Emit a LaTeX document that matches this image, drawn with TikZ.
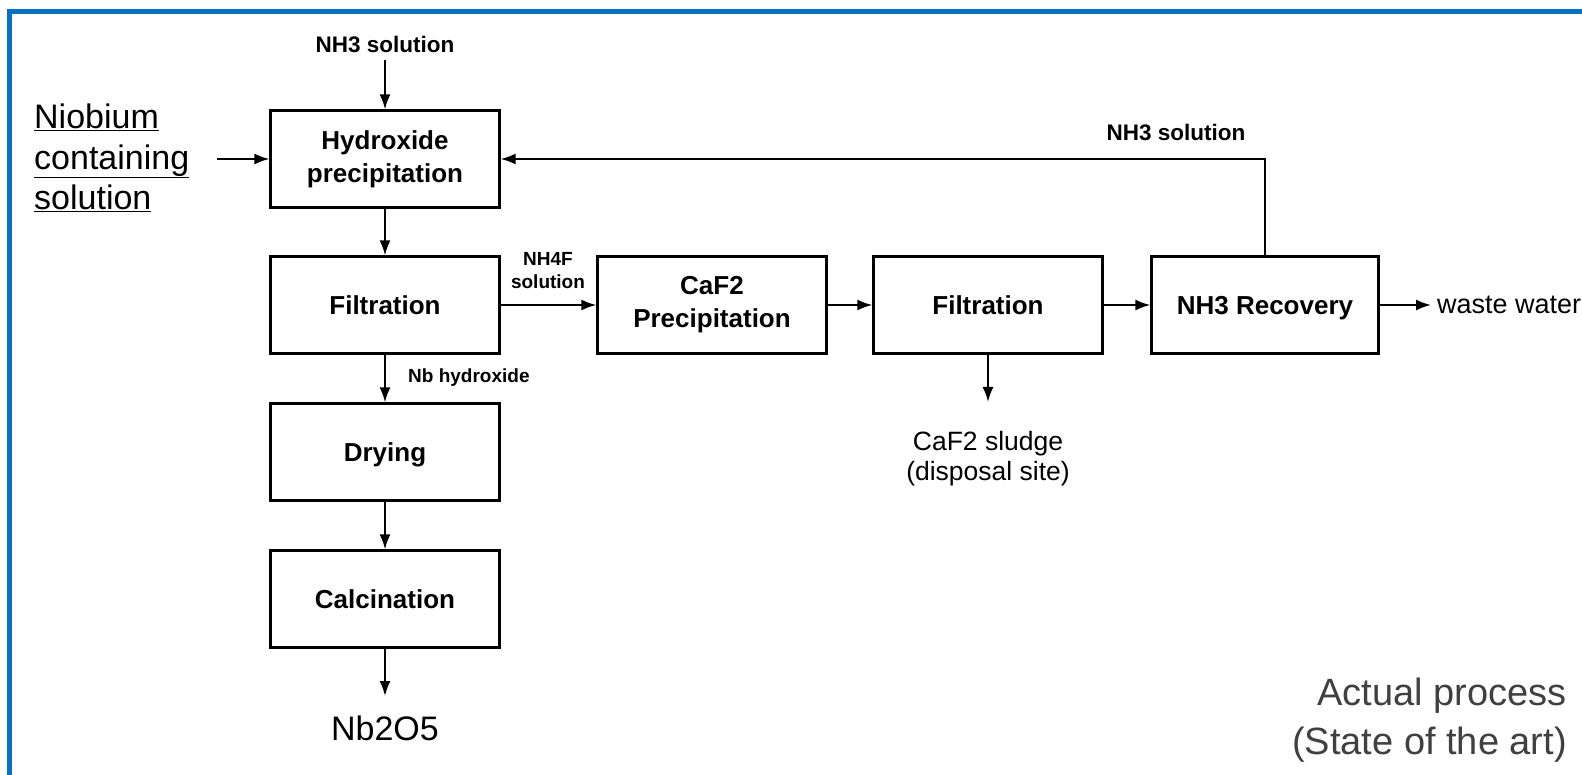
\documentclass[tikz,border=0pt]{standalone}
\usepackage{fontspec}
\setmainfont{Liberation Sans}
\usetikzlibrary{arrows.meta}
\definecolor{frameblue}{HTML}{0A72C4}
\definecolor{notegray}{HTML}{404040}
\begin{document}
\begin{tikzpicture}[x=1pt,y=-1pt,
  box/.style={draw, line width=2.2pt, minimum width=229pt, minimum height=97pt, inner sep=0pt, align=center, font=\bfseries\fontsize{26}{33}\selectfont},
  arr/.style={line width=2pt, -{Latex[length=15pt,width=11pt]}},
  lbl/.style={font=\bfseries\fontsize{19}{23}\selectfont, inner sep=0pt, align=center},
  mlbl/.style={font=\bfseries\fontsize{22.5}{26}\selectfont, inner sep=0pt, align=center},
  txt/.style={inner sep=0pt, align=center}]
\useasboundingbox (0,0) rectangle (1582,775);
\fill[white] (0,0) rectangle (1582,775);
% frame
\draw[frameblue, line width=4.5pt] (9.5,780) -- (9.5,11.5) -- (1590,11.5);

% boxes
\node[box] (hyd) at (385,159) {Hydroxide\\precipitation};
\node[box] (fil1) at (385,305) {Filtration};
\node[box, text depth=0pt] (dry) at (385,452) {Drying};
\node[box] (cal) at (385,599) {Calcination};
\node[box] (caf) at (712,305) {CaF2\\Precipitation};
\node[box] (fil2) at (988,305) {Filtration};
\node[box, minimum width=227pt, text depth=0pt] (rec) at (1265,305) {NH3 Recovery};

% labels
\node[mlbl] (nh3top) at (385,44) {NH3 solution};
\node[mlbl] (nh3ret) at (1176,132) {NH3 solution};
\node[lbl] (nh4f) at (548,271) {NH4F\\solution};
\node[lbl, anchor=west] (nbh) at (408,378) {Nb hydroxide};
\node[txt, anchor=west, font=\fontsize{34}{40.5}\selectfont, align=left] (nb) at (34,158)
  {\underline{Niobium}\\\underline{containing}\\\underline{solution}};
\node[txt, anchor=west, font=\fontsize{27}{30}\selectfont] (ww) at (1437,305) {waste water};
\node[txt, font=\fontsize{26.5}{30}\selectfont] (sludge) at (988,459) {CaF2 sludge\\(disposal site)};
\node[txt, font=\fontsize{34}{40}\selectfont] (nbo) at (385,728) {Nb2O5};
\node[txt, anchor=east, align=right, text=notegray, font=\fontsize{38}{49}\selectfont] (note) at (1567,720) {Actual process\\(State of the art)};

\coordinate (sludgetip) at (988,402);
\coordinate (nbotip) at (385,696);

% connectors
\draw[arr, shorten <=8pt] (nh3top.south) -- (hyd.north);
\draw[arr, shorten <=28pt] (nb.east |- hyd.west) -- (hyd.west);
\draw[arr] (rec.north) |- (hyd.east);
\draw[arr] (hyd) -- (fil1);
\draw[arr] (fil1) -- (dry);
\draw[arr] (dry) -- (cal);
\draw[arr] (cal.south) -- (nbotip);
\draw[arr] (fil1) -- (caf);
\draw[arr] (caf) -- (fil2);
\draw[arr] (fil2) -- (rec);
\draw[arr, shorten >=6pt] (rec) -- (ww);
\draw[arr] (fil2.south) -- (sludgetip);
\end{tikzpicture}
\end{document}
